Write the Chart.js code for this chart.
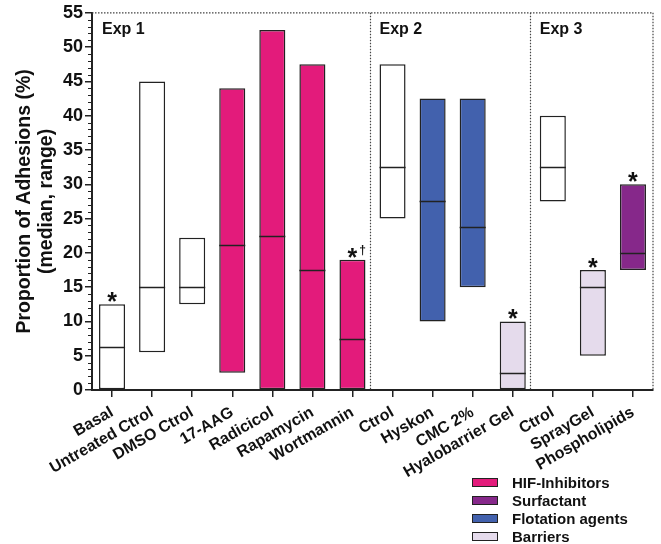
<!DOCTYPE html>
<html>
<head>
<meta charset="utf-8">
<script src="https://cdn.jsdelivr.net/npm/chart.js@4"></script>
<style>
  html, body { margin: 0; padding: 0; background: #fff; }
  #wrap { position: relative; width: 661px; height: 544px; }
  #legend { position: absolute; left: 472px; top: 474px; font: bold 15px "Liberation Sans", Arial, sans-serif; color: #111; }
  #legend div { height: 18px; line-height: 18px; white-space: nowrap; }
  #legend span { display: inline-block; width: 24px; height: 7px; border: 1.5px solid #222; margin-right: 14px; vertical-align: 1px; }
</style>
</head>
<body>
<div id="wrap">
  <canvas id="chart" width="661" height="544"></canvas>
  <div id="legend"></div>
</div>
<script>
// categories and values (median, range)
const categories = ['Basal', 'Untreated Ctrol', 'DMSO Ctrol', '17-AAG', 'Radicicol', 'Rapamycin', 'Wortmannin',
  'Ctrol', 'Hyskon', 'CMC 2%', 'Hyalobarrier Gel', 'Ctrol', 'SprayGel', 'Phospholipids'];
const rangeLow = [0, 5.5, 12.5, 2.5, 0, 0, 0, 25, 10, 15, 0, 27.5, 5, 17.5];
const rangeHigh = [12.5, 45, 22.2, 44, 52.5, 47.5, 19, 47.5, 42.5, 42.5, 10, 40, 17.5, 30];
const medians = [6.3, 15, 15, 21.2, 22.5, 17.5, 7.5, 32.5, 27.5, 23.7, 2.5, 32.5, 15, 20];
const groups = ['Control', 'Control', 'Control', 'HIF-Inhibitors', 'HIF-Inhibitors', 'HIF-Inhibitors', 'HIF-Inhibitors',
  'Control', 'Flotation agents', 'Flotation agents', 'Barriers', 'Control', 'Barriers', 'Surfactant'];
const marks = ['*', '', '', '', '', '', '*†', '', '', '', '*', '', '*', '*'];
const experiments = ['Exp 1', 'Exp 2', 'Exp 3'];
const expStart = [0, 7, 11];
const legendItems = ['HIF-Inhibitors', 'Surfactant', 'Flotation agents', 'Barriers'];

const groupColors = {
  'Control': '#ffffff',
  'HIF-Inhibitors': '#e31b7b',
  'Surfactant': '#86288a',
  'Flotation agents': '#4261ad',
  'Barriers': '#e5dbec'
};

const FONT = '"Liberation Sans", Arial, sans-serif';
const INK = '#222';

// legend (HTML)
const legendEl = document.getElementById('legend');
legendItems.forEach(name => {
  const row = document.createElement('div');
  const box = document.createElement('span');
  box.style.background = groupColors[name];
  row.appendChild(box);
  row.appendChild(document.createTextNode(name));
  legendEl.appendChild(row);
});

// medians, stars, dotted frame, minor ticks
const extras = {
  id: 'extras',
  afterDatasetsDraw(chart) {
    const { ctx, chartArea, scales: { x, y } } = chart;
    const meta = chart.getDatasetMeta(0);
    ctx.save();

    // median lines
    ctx.strokeStyle = INK;
    ctx.lineWidth = 1.5;
    meta.data.forEach((bar, i) => {
      const half = bar.width / 2;
      const py = Math.round(y.getPixelForValue(medians[i])) + 0.5;
      ctx.beginPath();
      ctx.moveTo(bar.x - half, py);
      ctx.lineTo(bar.x + half, py);
      ctx.stroke();
    });

    // significance marks
    ctx.fillStyle = '#111';
    ctx.textAlign = 'center';
    ctx.textBaseline = 'alphabetic';
    meta.data.forEach((bar, i) => {
      if (!marks[i]) return;
      const py = y.getPixelForValue(rangeHigh[i]) + 6;
      ctx.font = 'bold 25px ' + FONT;
      ctx.fillText('*', bar.x, py);
      if (marks[i].length > 1) {
        ctx.font = 'bold 12px ' + FONT;
        ctx.fillText(marks[i].slice(1), bar.x + 10, py - 12);
      }
    });

    // dotted frame and experiment separators
    ctx.strokeStyle = '#444';
    ctx.lineWidth = 1.2;
    ctx.setLineDash([1.5, 1.5]);
    const top = y.getPixelForValue(55);
    ctx.beginPath();
    ctx.moveTo(chartArea.left, top);
    ctx.lineTo(chartArea.right, top);
    ctx.lineTo(chartArea.right, chartArea.bottom);
    expStart.slice(1).forEach(i => {
      const px = Math.round((x.getPixelForTick(i - 1) + x.getPixelForTick(i)) / 2) - 2.5;
      ctx.moveTo(px, top);
      ctx.lineTo(px, chartArea.bottom);
    });
    ctx.stroke();
    ctx.setLineDash([]);

    // experiment labels
    ctx.font = 'bold 16px ' + FONT;
    ctx.textAlign = 'left';
    ctx.textBaseline = 'middle';
    ctx.fillStyle = '#111';
    experiments.forEach((label, k) => {
      const i = expStart[k];
      const left = k === 0 ? chartArea.left : (x.getPixelForTick(i - 1) + x.getPixelForTick(i)) / 2 - 3;
      ctx.fillText(label, left + 10, top + 17);
    });

    // minor y ticks
    ctx.strokeStyle = INK;
    ctx.lineWidth = 1;
    for (let v = 1; v < 55; v++) {
      if (v % 5 === 0) continue;
      const py = Math.round(y.getPixelForValue(v)) + 0.5;
      ctx.beginPath();
      ctx.moveTo(chartArea.left - 4, py);
      ctx.lineTo(chartArea.left, py);
      ctx.stroke();
    }
    ctx.restore();
  }
};

new Chart(document.getElementById('chart'), {
  type: 'bar',
  data: {
    labels: categories,
    datasets: [{
      data: rangeLow.map((lo, i) => [lo, rangeHigh[i]]),
      backgroundColor: groups.map(g => groupColors[g]),
      borderColor: INK,
      borderWidth: 1.5,
      borderSkipped: false,
      barPercentage: 0.65,
      categoryPercentage: 1
    }]
  },
  options: {
    responsive: false,
    animation: false,
    layout: { padding: { left: 14, right: 8, top: 12, bottom: 52 } },
    plugins: { legend: { display: false }, tooltip: { enabled: false } },
    scales: {
      x: {
        afterFit(scale) { scale.height = 102; },
        grid: { drawOnChartArea: false, offset: false, tickLength: 7, color: INK, lineWidth: 1.5 },
        border: { color: INK, width: 2 },
        ticks: {
          color: '#111', font: { family: FONT, weight: 'bold', size: 16 },
          minRotation: 30, maxRotation: 30, autoSkip: false, padding: 6
        }
      },
      y: {
        min: 0, max: 55,
        afterFit(scale) { scale.width = 78; },
        grid: { drawOnChartArea: false, tickLength: 7, color: INK, lineWidth: 1.5 },
        border: { color: INK, width: 2 },
        ticks: { stepSize: 5, color: '#111', padding: 2, font: { family: FONT, weight: 'bold', size: 18 } },
        title: {
          display: true,
          text: ['Proportion of Adhesions (%)', '(median, range)'],
          color: '#111', font: { family: FONT, weight: 'bold', size: 19.5, lineHeight: 1.1 }, padding: 0
        }
      }
    }
  },
  plugins: [extras]
});
</script>
</body>
</html>
